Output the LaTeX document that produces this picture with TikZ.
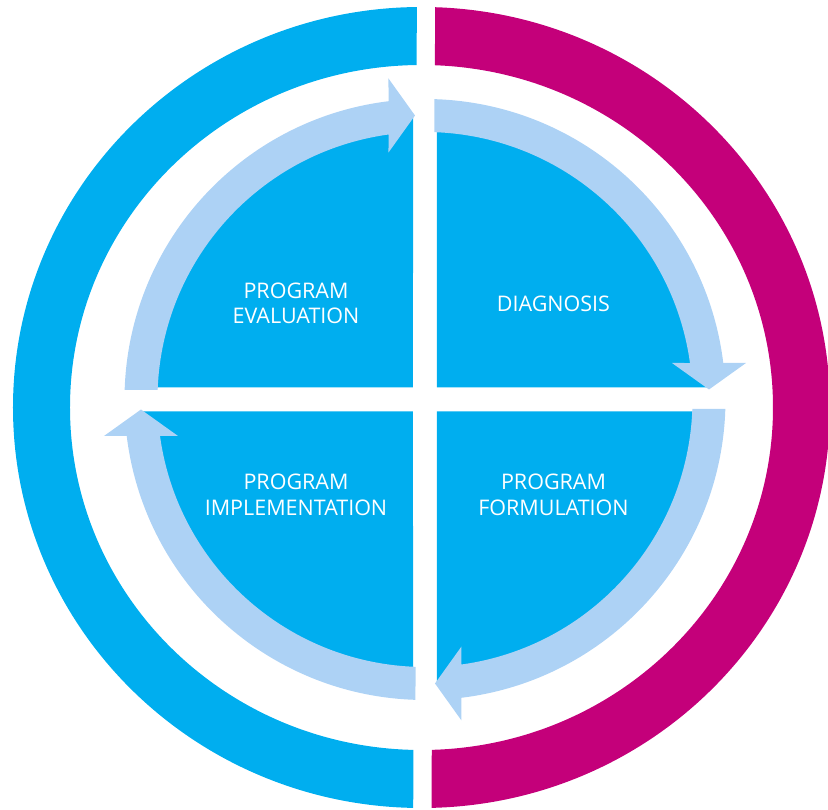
\documentclass[tikz,border=0pt]{standalone}
\usepackage{fontspec}
\setmainfont{Open Sans}
\definecolor{cblue}{RGB}{0,174,239}
\definecolor{cmag}{RGB}{196,0,122}
\definecolor{clight}{RGB}{173,210,245}
\begin{document}
\begin{tikzpicture}[x=1pt,y=1pt,
  lbl/.style={text=white, font=\fontsize{21.5}{25.5}\selectfont, align=center, inner sep=0pt},
  quad/.style={fill=cblue},
  arc arrow/.style={fill=clight}]
\useasboundingbox (-425,-410.5) rectangle (403,399.5);
\clip (-425,-410.5) rectangle (403,399.5);
% outer ring, left (blue) half
\begin{scope}
  \clip (-425,-420) -- (-11.84,-420) -- (-8.05,410) -- (-425,410) -- cycle;
  \fill[cblue, even odd rule] (-3.5,-8) ellipse [x radius=408.5, y radius=400.5]
                              (-3.5,-8) ellipse [x radius=351.5, y radius=342.5];
\end{scope}
% outer ring, right (magenta) half
\begin{scope}
  \clip (10.25,410) -- (420,410) -- (420,-420) -- (6.46,-420) -- cycle;
  \fill[cmag, even odd rule] (-3.5,-8) ellipse [x radius=408.5, y radius=400.5]
                             (-3.5,-8) ellipse [x radius=351.5, y radius=342.5];
\end{scope}
% four quadrants
\foreach \a in {0,90,180,270}
  \fill[quad, rotate=\a] (12,12) -- ({acos(12/284)}:284)
     arc[start angle={acos(12/284)}, end angle={asin(12/284)}, radius=284] -- cycle;
% four light arc arrows (clockwise)
\foreach \a in {0,-90,-180,-270}
  \fill[arc arrow, rotate=\a] ({acos(9.5/300.5)}:300.5)
     arc[start angle={acos(9.5/300.5)}, end angle={asin(36.5/300.5)}, radius=300.5]
     -- (321,36.5) -- (284,10) -- (247,36.5) -- ({asin(36.5/267.5)}:267.5)
     arc[start angle={asin(36.5/267.5)}, end angle={acos(9.5/267.5)}, radius=267.5] -- cycle;
% labels
\node[lbl] (eval) at (-129,96) {PROGRAM\\EVALUATION};
\node[lbl] (diag) at (128.5,96) {DIAGNOSIS};
\node[lbl] (impl) at (-129,-95.5) {PROGRAM\\IMPLEMENTATION};
\node[lbl] (form) at (128.5,-95.5) {PROGRAM\\FORMULATION};
\end{tikzpicture}
\end{document}
